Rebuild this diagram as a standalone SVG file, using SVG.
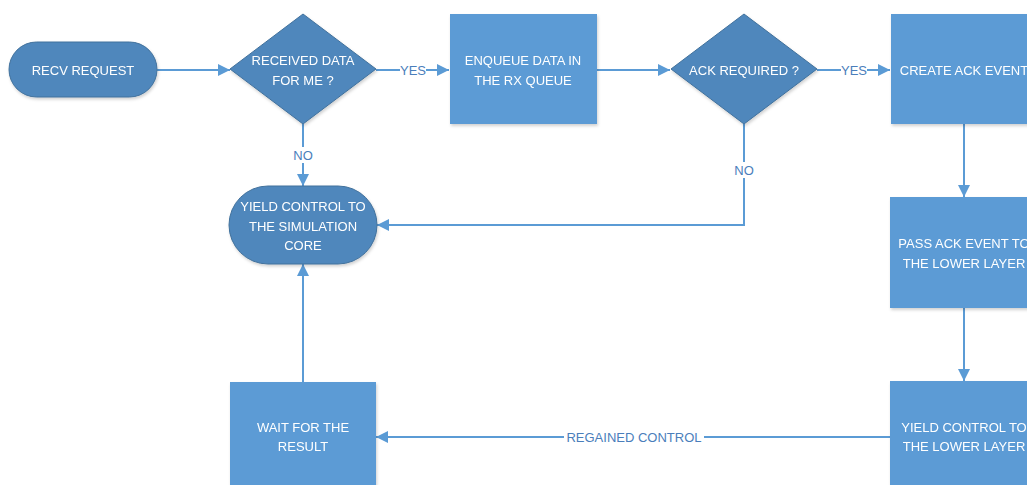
<svg xmlns="http://www.w3.org/2000/svg" width="1027" height="485" viewBox="0 0 1027 485">
  <style>
    .term { fill: #4F87BC; stroke: #41719C; stroke-width: 1; }
    .dec { fill: #4F87BC; stroke: #41719C; stroke-width: 1; }
    .proc { fill: #5B9BD5; }
    .nt { font-family: "Liberation Sans", Arial, sans-serif; font-size: 13px; fill: #FFFFFF; text-anchor: middle; }
    .edge { fill: none; stroke: #5B9BD5; stroke-width: 2; }
    .lbl { font-family: "Liberation Sans", Arial, sans-serif; font-size: 13px; fill: #4A7EBB; text-anchor: middle; }
    .lblbg { fill: #FFFFFF; }
  </style>
  <defs>
    <marker id="arrow" markerWidth="12" markerHeight="12" refX="12" refY="6" orient="auto" markerUnits="userSpaceOnUse">
      <path d="M0,0 L12,6 L0,12 Z" fill="#5B9BD5"/>
    </marker>
    <filter id="shadow" x="-10%" y="-10%" width="125%" height="130%">
      <feDropShadow dx="1" dy="2" stdDeviation="1.5" flood-color="#000000" flood-opacity="0.18"/>
    </filter>
  </defs>
  <rect width="1027" height="485" fill="#FFFFFF"/>

  <!-- connectors -->
  <g id="connectors">
    <path class="edge" d="M157,70 L230,70" marker-end="url(#arrow)"/>
    <path class="edge" d="M376,70 L449,70" marker-end="url(#arrow)"/>
    <path class="edge" d="M303,124 L303,186" marker-end="url(#arrow)"/>
    <path class="edge" d="M597,70 L670,70" marker-end="url(#arrow)"/>
    <path class="edge" d="M817,70 L890,70" marker-end="url(#arrow)"/>
    <path class="edge" d="M744,124 L744,225 L377,225" marker-end="url(#arrow)"/>
    <path class="edge" d="M964,124 L964,197" marker-end="url(#arrow)"/>
    <path class="edge" d="M964,308 L964,381" marker-end="url(#arrow)"/>
    <path class="edge" d="M890,437 L376,437" marker-end="url(#arrow)"/>
    <path class="edge" d="M303,382 L303,264" marker-end="url(#arrow)"/>

    <rect class="lblbg" x="400" y="62" width="26" height="16"/>
    <text class="lbl" x="413" y="75">YES</text>
    <rect class="lblbg" x="841" y="62" width="26" height="16"/>
    <text class="lbl" x="854" y="75">YES</text>
    <rect class="lblbg" x="291" y="147" width="24" height="16"/>
    <text class="lbl" x="303" y="160">NO</text>
    <rect class="lblbg" x="732" y="162" width="24" height="16"/>
    <text class="lbl" x="744" y="175">NO</text>
    <rect class="lblbg" x="564" y="429" width="140" height="16"/>
    <text class="lbl" x="634" y="442">REGAINED CONTROL</text>
  </g>

  <!-- nodes -->
  <g id="recv-request" filter="url(#shadow)">
    <rect class="term" x="9" y="42" width="148" height="55" rx="27.5" ry="27.5"/>
    <text class="nt" x="83" y="75">RECV REQUEST</text>
  </g>

  <g id="received-data" filter="url(#shadow)">
    <polygon class="dec" points="303,14 376,69 303,124 230,69"/>
    <text class="nt" x="303" y="65">RECEIVED DATA</text>
    <text class="nt" x="303" y="85">FOR ME ?</text>
  </g>

  <g id="enqueue-data" filter="url(#shadow)">
    <rect class="proc" x="450" y="14" width="147" height="110"/>
    <text class="nt" x="523" y="65">ENQUEUE DATA IN</text>
    <text class="nt" x="523" y="85">THE RX QUEUE</text>
  </g>

  <g id="ack-required" filter="url(#shadow)">
    <polygon class="dec" points="744,14 817,69 744,124 671,69"/>
    <text class="nt" x="744" y="75">ACK REQUIRED ?</text>
  </g>

  <g id="create-ack-event" filter="url(#shadow)">
    <rect class="proc" x="891" y="14" width="147" height="110"/>
    <text class="nt" x="964" y="75">CREATE ACK EVENT</text>
  </g>

  <g id="yield-sim-core" filter="url(#shadow)">
    <rect class="term" x="229" y="186" width="148" height="78" rx="39" ry="39"/>
    <text class="nt" x="303" y="211">YIELD CONTROL TO</text>
    <text class="nt" x="303" y="231">THE SIMULATION</text>
    <text class="nt" x="303" y="250">CORE</text>
  </g>

  <g id="pass-ack-event" filter="url(#shadow)">
    <rect class="proc" x="890" y="197" width="147" height="111"/>
    <text class="nt" x="964" y="248">PASS ACK EVENT TO</text>
    <text class="nt" x="964" y="268">THE LOWER LAYER</text>
  </g>

  <g id="yield-lower-layer" filter="url(#shadow)">
    <rect class="proc" x="890" y="381" width="147" height="110"/>
    <text class="nt" x="964" y="432">YIELD CONTROL TO</text>
    <text class="nt" x="964" y="451">THE LOWER LAYER</text>
  </g>

  <g id="wait-result" filter="url(#shadow)">
    <rect class="proc" x="230" y="382" width="146" height="110"/>
    <text class="nt" x="303" y="432">WAIT FOR THE</text>
    <text class="nt" x="303" y="451">RESULT</text>
  </g>
</svg>
